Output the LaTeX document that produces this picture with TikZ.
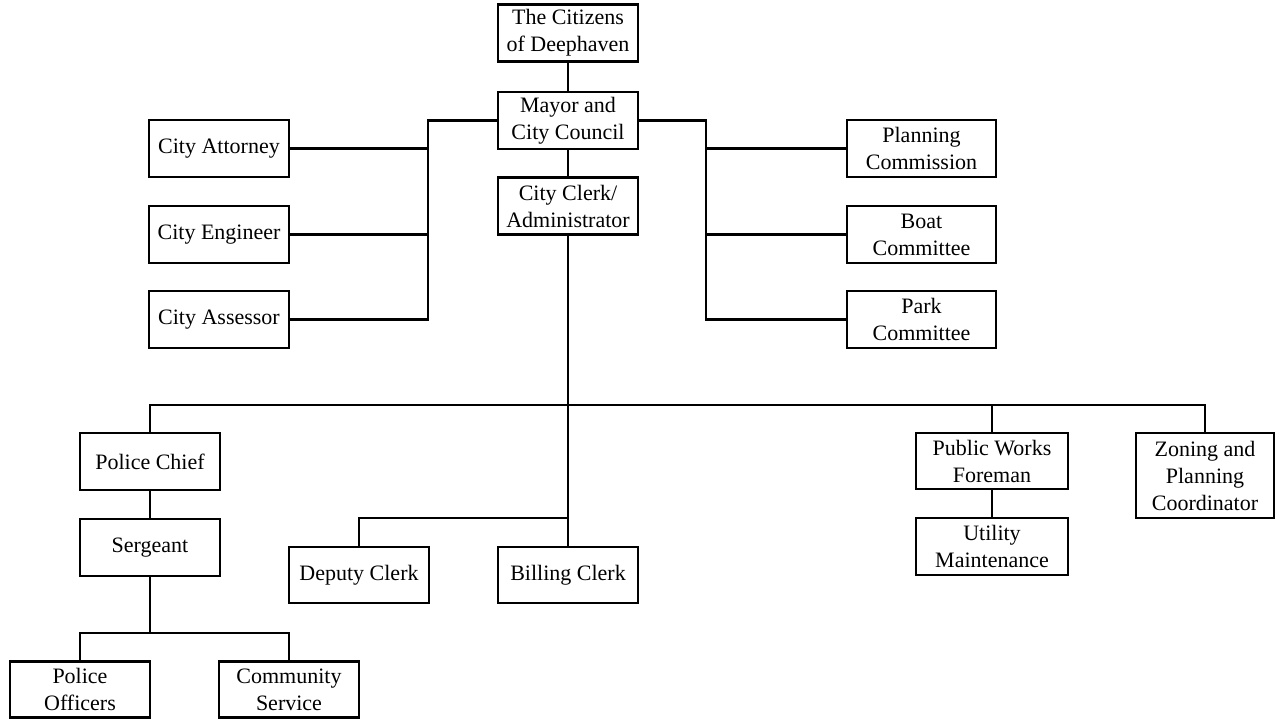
\documentclass[tikz,border=0pt]{standalone}
\usepackage{fontspec}
\setmainfont{Liberation Serif}
\begin{document}
\begin{tikzpicture}[x=1pt,y=-1pt,
  box/.style={draw,line width=2.8pt,minimum width=140pt,minimum height=57pt,
    align=center,inner sep=1pt,font=\fontsize{22}{27}\selectfont},
  conn/.style={line width=2.8pt}]
\useasboundingbox (0,0) rectangle (1278,719);
\node[box] (cit) at (568,33) {The Citizens\\of Deephaven};
\node[box] (mayor) at (568,120.5) {Mayor and\\City Council};
\node[box] (clerk) at (568,206) {City Clerk/\\Administrator};
\node[box] (att) at (219,148.5) {City Attorney};
\node[box] (eng) at (219,234.5) {City Engineer};
\node[box] (ass) at (219,319.5) {City Assessor};
\node[box,minimum width=149pt] (plan) at (921.5,148.5) {Planning\\Commission};
\node[box,minimum width=149pt] (boat) at (921.5,234.5) {Boat\\Committee};
\node[box,minimum width=149pt] (park) at (921.5,319.5) {Park\\Committee};
\node[box] (pc) at (150,461.5) {Police Chief};
\node[box] (serg) at (150,547.5) {Sergeant};
\node[box,minimum height=56pt] (po) at (80,689.5) {Police\\Officers};
\node[box,minimum height=56pt] (cs) at (289,689.5) {Community\\Service};
\node[box,minimum height=56pt] (dep) at (359,575) {Deputy Clerk};
\node[box,minimum height=56pt] (bill) at (568,575) {Billing Clerk};
\node[box,minimum width=152pt,minimum height=56pt] (pw) at (992,461) {Public Works\\Foreman};
\node[box,minimum width=152pt] (ut) at (992,546.5) {Utility\\Maintenance};
\node[box,minimum width=138pt,minimum height=85pt] (zon) at (1205,475.5) {Zoning and\\Planning\\Coordinator};
\coordinate (lt) at (428,120.5);
\coordinate (rt) at (706,120.5);
\coordinate (bus) at (568,405);
\coordinate (pj) at (150,633);
\coordinate (dj) at (568,518);
\draw[conn] (cit.south) -- (mayor.north);
\draw[conn] (mayor.south) -- (clerk.north);
\draw[conn] (mayor.west) -- (lt) -- (lt |- ass.east) -- (ass.east);
\draw[conn] (att.east) -- (att.east -| lt);
\draw[conn] (eng.east) -- (eng.east -| lt);
\draw[conn] (mayor.east) -- (rt) -- (rt |- park.west) -- (park.west);
\draw[conn] (plan.west) -- (plan.west -| rt);
\draw[conn] (boat.west) -- (boat.west -| rt);
\draw[conn] (clerk.south) -- (bill.north);
\draw[conn] (pc.north) -- (pc.north |- bus) -- (zon.north |- bus) -- (zon.north);
\draw[conn] (pw.north) -- (pw.north |- bus);
\draw[conn] (pw.south) -- (ut.north);
\draw[conn] (pc.south) -- (serg.north);
\draw[conn] (serg.south) -- (pj);
\draw[conn] (po.north) |- (pj) -| (cs.north);
\draw[conn] (dep.north) |- (dj);
\end{tikzpicture}
\end{document}
